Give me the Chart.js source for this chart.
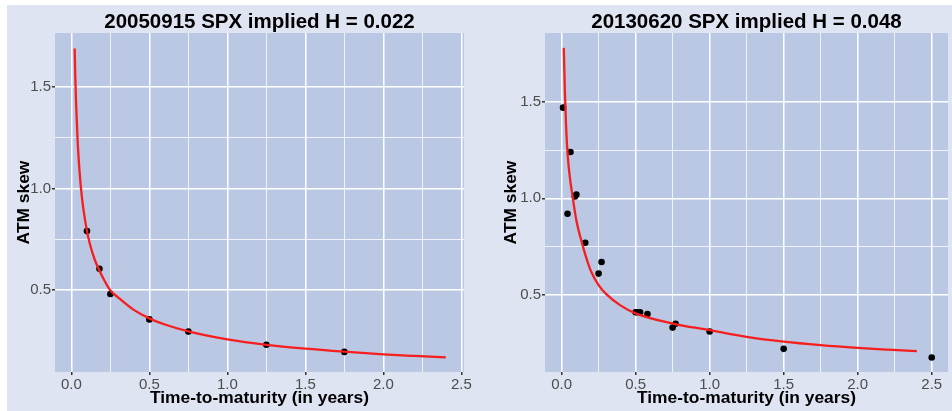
<!DOCTYPE html>
<html>
<head>
<meta charset="utf-8">
<script src="https://cdn.jsdelivr.net/npm/chart.js@4"></script>
<style>
    body { margin: 0; background: #fff; width: 952px; height: 411px; position: relative; overflow: hidden; }
    .bg { position: absolute; left: 7px; top: 5px; width: 945px; height: 406px; background: #dfe4f2; }
    .panel { position: absolute; top: 5px; height: 406px; }
    #leftBox { left: 7px; width: 469px; }
    #rightBox { left: 476px; width: 476px; }
</style>
</head>
<body>
<div class="bg"></div>
<div class="panel" id="leftBox"><canvas id="leftChart"></canvas></div>
<div class="panel" id="rightBox"><canvas id="rightChart"></canvas></div>
<script>
// grid / tick positions
const xTicks = [0, 0.25, 0.5, 0.75, 1.0, 1.25, 1.5, 1.75, 2.0, 2.25, 2.5];
const yTicks = [0.5, 0.75, 1.0, 1.25, 1.5];

// 20050915 - observed ATM skew
const leftPointX = [0.10, 0.18, 0.25, 0.50, 0.75, 1.25, 1.75];
const leftPointY = [0.79, 0.605, 0.48, 0.355, 0.295, 0.23, 0.195];
// 20050915 - fitted curve
const leftCurveX = [0.021, 0.025, 0.03, 0.04, 0.05, 0.06, 0.07, 0.08, 0.10, 0.12, 0.15, 0.20, 0.25, 0.30, 0.40, 0.50, 0.60, 0.75, 1.00, 1.25, 1.50, 1.75, 2.00, 2.20, 2.40];
const leftCurveY = [1.69, 1.555, 1.423, 1.236, 1.109, 1.014, 0.941, 0.882, 0.790, 0.723, 0.649, 0.564, 0.498, 0.463, 0.402, 0.360, 0.330, 0.296, 0.257, 0.230, 0.211, 0.196, 0.183, 0.175, 0.168];

// 20130620 - observed ATM skew
const rightPointX = [0.01, 0.04, 0.06, 0.09, 0.10, 0.16, 0.25, 0.27, 0.50, 0.51, 0.53, 0.58, 0.75, 0.77, 1.00, 1.50, 2.50];
const rightPointY = [1.47, 0.92, 1.24, 1.01, 1.02, 0.77, 0.61, 0.67, 0.41, 0.41, 0.41, 0.40, 0.33, 0.35, 0.31, 0.22, 0.175];
// 20130620 - fitted curve
const rightCurveX = [0.015, 0.022, 0.03, 0.04, 0.055, 0.073, 0.10, 0.138, 0.18, 0.20, 0.25, 0.30, 0.40, 0.50, 0.75, 1.00, 1.25, 1.50, 1.75, 2.00, 2.20, 2.40];
const rightCurveY = [1.78, 1.56, 1.384, 1.237, 1.115, 1.016, 0.885, 0.768, 0.66, 0.62, 0.55, 0.505, 0.444, 0.404, 0.351, 0.317, 0.282, 0.257, 0.239, 0.225, 0.216, 0.208];

const FONT = '"Liberation Sans", Arial, sans-serif';
const isMajor = v => Math.abs(v * 2 - Math.round(v * 2)) < 1e-6;

const panelBg = {
    id: 'panelBg',
    beforeDraw(chart) {
        const { ctx, chartArea: a } = chart;
        ctx.save();
        ctx.fillStyle = '#bac8e4';
        ctx.fillRect(a.left, a.top, a.right - a.left, a.bottom - a.top);
        ctx.restore();
    }
};

function toXY(xs, ys) {
    return xs.map((x, i) => ({ x: x, y: ys[i] }));
}

function gridOpts() {
    return {
        color: c => isMajor(c.tick.value) ? '#ffffff' : 'rgba(255,255,255,0.85)',
        lineWidth: c => isMajor(c.tick.value) ? 1.5 : 0.9,
        tickColor: c => isMajor(c.tick.value) ? '#333333' : 'rgba(0,0,0,0)',
        tickLength: 3,
        drawTicks: true
    };
}

function makeChart(id, opt) {
    new Chart(document.getElementById(id), {
        type: 'scatter',
        data: {
            datasets: [{
                data: toXY(opt.curveX, opt.curveY),
                showLine: true,
                borderColor: '#f71e1e',
                borderWidth: 2.3,
                pointRadius: 0,
                cubicInterpolationMode: 'monotone'
            }, {
                data: toXY(opt.pointX, opt.pointY),
                pointRadius: 3.3,
                pointBackgroundColor: '#000',
                pointBorderWidth: 0,
                showLine: false
            }]
        },
        options: {
            responsive: true,
            maintainAspectRatio: false,
            animation: false,
            layout: { padding: { left: 0, right: opt.padRight, top: 0, bottom: 0 } },
            plugins: {
                legend: { display: false },
                tooltip: { enabled: false },
                title: {
                    display: true,
                    text: opt.title,
                    fullSize: false,
                    color: '#000',
                    font: { family: FONT, size: 20.5, weight: 'bold', lineHeight: 1 },
                    padding: { top: 6.75, bottom: 0.75 }
                }
            },
            scales: {
                x: {
                    type: 'linear',
                    min: opt.xMin,
                    max: opt.xMax,
                    afterBuildTicks: s => { s.ticks = xTicks.map(v => ({ value: v })); },
                    afterFit: s => { s.height = 39; },
                    border: { display: false },
                    grid: gridOpts(),
                    ticks: {
                        autoSkip: false,
                        maxRotation: 0,
                        padding: 1,
                        color: '#4d4d4d',
                        font: { family: FONT, size: 15 },
                        callback: v => isMajor(v) ? v.toFixed(1) : ''
                    },
                    title: {
                        display: true,
                        text: 'Time-to-maturity (in years)',
                        color: '#000',
                        font: { family: FONT, size: 17.4, weight: 'bold' },
                        padding: { top: 0, bottom: 2.3 }
                    }
                },
                y: {
                    type: 'linear',
                    min: opt.yMin,
                    max: opt.yMax,
                    afterBuildTicks: s => { s.ticks = yTicks.map(v => ({ value: v })); },
                    afterFit: s => { s.width = opt.yWidth; },
                    border: { display: false },
                    grid: gridOpts(),
                    ticks: {
                        autoSkip: false,
                        padding: 1,
                        color: '#4d4d4d',
                        font: { family: FONT, size: 15 },
                        callback: v => isMajor(v) ? v.toFixed(1) : ''
                    },
                    title: {
                        display: true,
                        text: 'ATM skew',
                        color: '#000',
                        font: { family: FONT, size: 17.4, weight: 'bold' },
                        padding: { top: opt.yTitlePad, bottom: 0 }
                    }
                }
            }
        },
        plugins: [panelBg]
    });
}

makeChart('leftChart', {
    title: '20050915 SPX implied H = 0.022',
    pointX: leftPointX, pointY: leftPointY,
    curveX: leftCurveX, curveY: leftCurveY,
    xMin: -0.105, xMax: 2.517,
    yMin: 0.096, yMax: 1.766,
    yWidth: 48, yTitlePad: 6.5, padRight: 12
});

makeChart('rightChart', {
    title: '20130620 SPX implied H = 0.048',
    pointX: rightPointX, pointY: rightPointY,
    curveX: rightCurveX, curveY: rightCurveY,
    xMin: -0.112, xMax: 2.61,
    yMin: 0.10, yMax: 1.857,
    yWidth: 69, yTitlePad: 24.5, padRight: 0
});
</script>
</body>
</html>
